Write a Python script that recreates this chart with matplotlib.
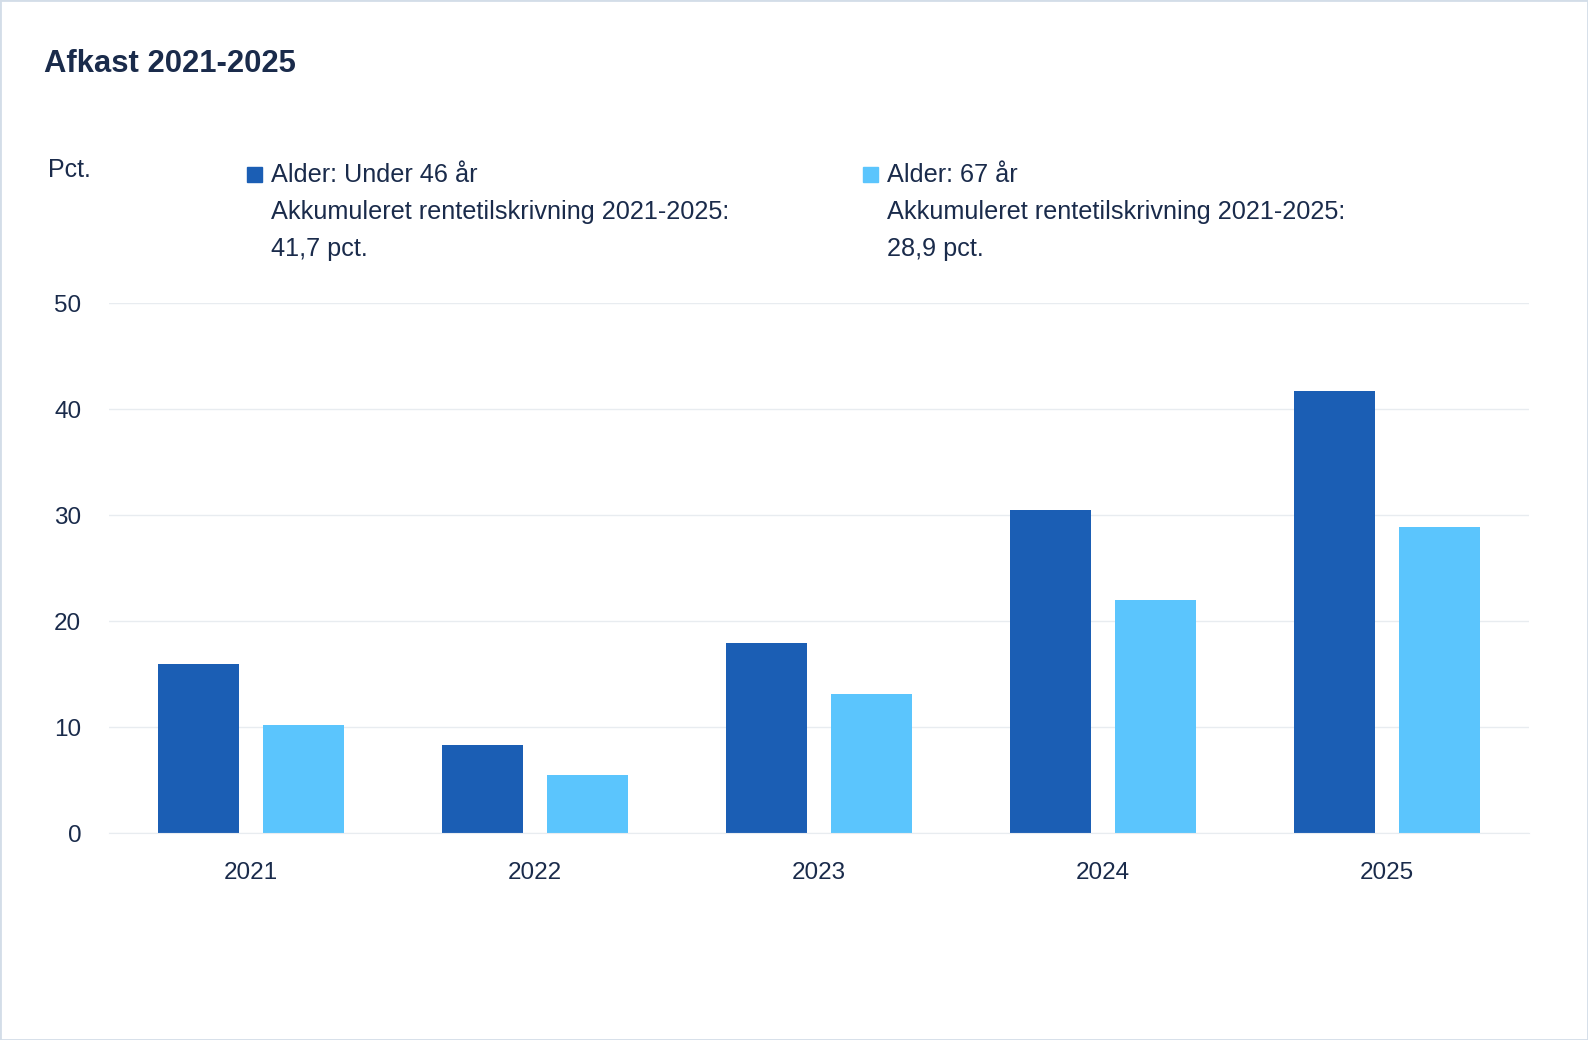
import numpy as np
import matplotlib.pyplot as plt
from matplotlib.patches import Rectangle

# Data
years = ["2021", "2022", "2023", "2024", "2025"]
under_46 = [15.9, 8.3, 17.9, 30.5, 41.7]
age_67 = [10.2, 5.5, 13.1, 22.0, 28.9]
y_ticks = [0, 10, 20, 30, 40, 50]

legend_1 = ["Alder: Under 46 år", "Akkumuleret rentetilskrivning 2021-2025:", "41,7 pct."]
legend_2 = ["Alder: 67 år", "Akkumuleret rentetilskrivning 2021-2025:", "28,9 pct."]

dark = "#1b5eb4"
light = "#5bc5fd"
navy = "#1a2b4b"
grid_c = "#e8ecf0"

plt.rcParams['font.family'] = ['Liberation Sans', 'DejaVu Sans']

W, H = 1588, 1040
fig = plt.figure(figsize=(W / 100, H / 100), dpi=100)
fig.patch.set_facecolor("white")

def fx(px):
    return px / W

def fy(py):
    return 1 - py / H

ax = fig.add_axes([fx(109), fy(833), fx(1529) - fx(109), fy(303) - fy(833)])

x = np.arange(len(years))
w = 0.285
off = 0.186
ax.bar(x - off, under_46, width=w, color=dark, zorder=3)
ax.bar(x + off, age_67, width=w, color=light, zorder=3)

ax.set_xlim(-0.5, len(years) - 0.5)
ax.set_ylim(0, 50)
ax.set_yticks(y_ticks)
ax.set_xticks(x)
ax.set_xticklabels(years)
ax.grid(axis="y", color=grid_c, linewidth=1, zorder=0)
ax.set_axisbelow(True)
for s in ["top", "right", "left"]:
    ax.spines[s].set_visible(False)
ax.spines["bottom"].set_color(grid_c)
ax.spines["bottom"].set_zorder(4)
ax.tick_params(axis="both", length=0, labelsize=17.5, labelcolor=navy)
ax.tick_params(axis="y", pad=20)
ax.tick_params(axis="x", pad=21)
for lab in ax.get_yticklabels():
    lab.set_y(lab.get_position()[1])
    lab.set_va("center_baseline")

# Title and axis unit
fig.text(fx(44), fy(64), "Afkast 2021-2025", fontsize=22.3, fontweight="bold",
         color=navy, va="center", ha="left")
fig.text(fx(48), fy(170), "Pct.", fontsize=18, color=navy, va="center", ha="left")

# Legend blocks
line_y = [175, 212, 249]
for sq_x, txt_x, col, lines in [(247, 271, dark, legend_1), (863, 887, light, legend_2)]:
    fig.add_artist(Rectangle((fx(sq_x), fy(182)), fx(15), 15 / H, color=col,
                             transform=fig.transFigure))
    for ly, t in zip(line_y, lines):
        fig.text(fx(txt_x), fy(ly), t, fontsize=18.2, color=navy, va="center", ha="left")

# Frame around the figure
fig.add_artist(Rectangle((0, 0), 1, 1, fill=False, edgecolor="#d3dde8", linewidth=2,
                         transform=fig.transFigure))

fig.savefig("out.png", dpi=100)
